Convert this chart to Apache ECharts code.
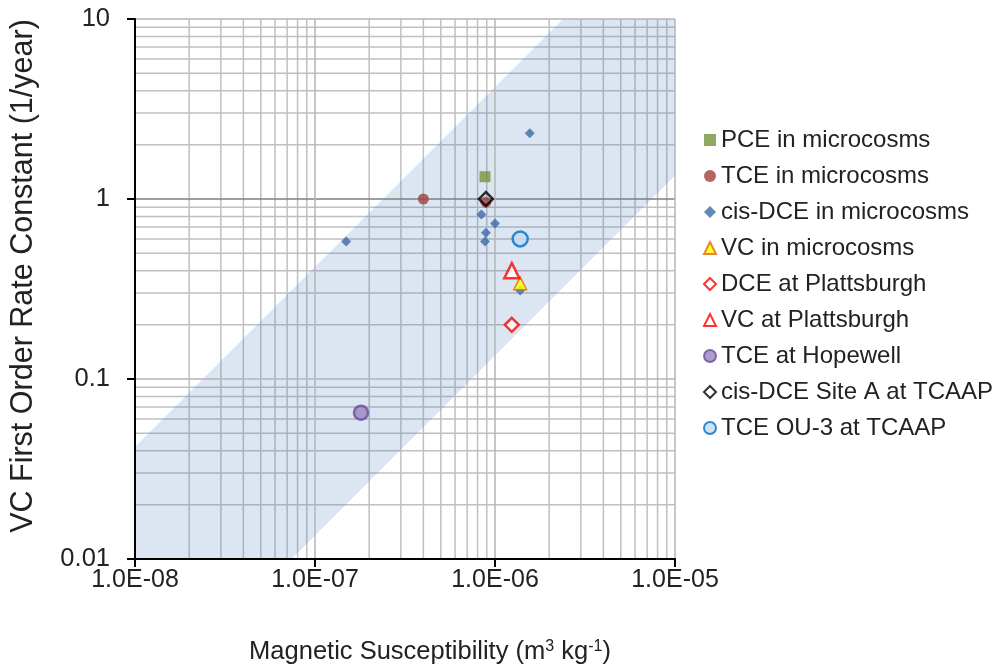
<!DOCTYPE html>
<html>
<head>
<meta charset="utf-8">
<title>VC rate constant vs magnetic susceptibility</title>
<script src="https://cdn.jsdelivr.net/npm/echarts@6.0.0/dist/echarts.min.js"></script>
<style>
  html, body { margin: 0; padding: 0; background: #fff; }
  #chart { width: 1000px; height: 670px; }
</style>
</head>
<body>
<div id="chart"></div>
<script>
// axis ranges and tick labels
const xMin = 1e-8, xMax = 1e-5;
const yMin = 0.01, yMax = 10;
const xTickLabels = ['1.0E-08', '1.0E-07', '1.0E-06', '1.0E-05'];
const yTickLabels = ['0.01', '0.1', '1', '10'];

// [magnetic susceptibility, rate constant] per data set
const pceMicro = [[8.8e-7, 1.33]];
const tceMicro = [[4.0e-7, 1.0], [8.9e-7, 0.96]];
const cisDceMicro = [
  [1.56e-6, 2.32], [8.4e-7, 0.82], [1.0e-6, 0.73], [8.9e-7, 0.65],
  [8.8e-7, 0.58], [1.49e-7, 0.58], [1.38e-6, 0.31]
];
const vcMicro = [[1.38e-6, 0.34]];
const dcePlattsburgh = [[1.24e-6, 0.20]];
const vcPlattsburgh = [[1.24e-6, 0.40]];
const tceHopewell = [[1.8e-7, 0.065]];
const cisDceSiteA = [[8.9e-7, 1.0]];
const tceOu3 = [[1.38e-6, 0.60]];

// shaded band (corners)
const bandX = [1e-8, 2.39e-6, 1e-5, 1e-5, 7.4e-8, 1e-8];
const bandY = [0.042, 10, 10, 1.35, 0.01, 0.01];

// minor gridlines at 2..9 x 10^n
const minorSteps = [2, 3, 4, 5, 6, 7, 8, 9];
const xDecades = [1e-8, 1e-7, 1e-6];
const yDecades = [0.01, 0.1, 1];

const FONT = '"Liberation Sans", Arial, sans-serif';

const chart = echarts.init(document.getElementById('chart'));

function decadeIndex(v, base) {
  return Math.round(Math.log10(v) - Math.log10(base));
}

function minorGrid(params, api) {
  const cs = params.coordSys;
  const lines = [];
  xDecades.forEach(d => {
    minorSteps.forEach(s => {
      const p = api.coord([d * s, yMin]);
      lines.push({
        type: 'line',
        shape: { x1: p[0], y1: cs.y, x2: p[0], y2: cs.y + cs.height },
        style: { stroke: '#c0c0c0', lineWidth: 1.5 }
      });
    });
  });
  yDecades.forEach(d => {
    minorSteps.forEach(s => {
      const p = api.coord([xMin, d * s]);
      lines.push({
        type: 'line',
        shape: { x1: cs.x, y1: p[1], x2: cs.x + cs.width, y2: p[1] },
        style: { stroke: '#c0c0c0', lineWidth: 1.5 }
      });
    });
  });
  return { type: 'group', children: lines };
}

function band(params, api) {
  const pts = bandX.map((x, i) => api.coord([x, bandY[i]]));
  return {
    type: 'polygon',
    shape: { points: pts },
    style: { fill: 'rgba(79,129,189,0.2)' }
  };
}

function scatter(name, data, symbol, size, itemStyle) {
  return {
    name: name,
    type: 'scatter',
    data: data,
    symbol: symbol,
    symbolSize: size,
    itemStyle: itemStyle,
    z: 3
  };
}

const option = {
  backgroundColor: '#fff',
  animation: false,
  textStyle: { fontFamily: FONT },
  grid: { left: 132, top: 19, width: 543, height: 540 },
  legend: {
    orient: 'vertical',
    left: 698,
    top: 123,
    itemWidth: 12,
    itemHeight: 12,
    itemGap: 12,
    textStyle: { fontFamily: FONT, fontSize: 24, color: '#222' },
    data: [
      'PCE in microcosms', 'TCE in microcosms', 'cis-DCE in microcosms',
      'VC in microcosms', 'DCE at Plattsburgh', 'VC at Plattsburgh',
      'TCE at Hopewell', 'cis-DCE Site A at TCAAP', 'TCE OU-3 at TCAAP'
    ]
  },
  xAxis: {
    type: 'log',
    logBase: 10,
    min: xMin,
    max: xMax,
    z: 2,
    name: 'Magnetic Susceptibility (m{sup|3} kg{sup|-1})',
    nameLocation: 'middle',
    nameGap: 80,
    nameTextStyle: {
      fontFamily: FONT, fontSize: 25.5, color: '#222',
      padding: [0, 0, 0, 50],
      rich: {
        sup: { fontFamily: FONT, fontSize: 16, color: '#222', verticalAlign: 'top', padding: [0, 0, 8, 0] }
      }
    },
    axisLine: { show: true, lineStyle: { color: '#000', width: 2 } },
    axisTick: { show: true, inside: false, length: 8, lineStyle: { color: '#000', width: 2 } },
    axisLabel: {
      margin: 9,
      fontFamily: FONT, fontSize: 25, color: '#222',
      formatter: v => xTickLabels[decadeIndex(v, xMin)]
    },
    splitLine: { show: true, lineStyle: { color: '#b4b4b4', width: 1.5 } },
    minorTick: { show: false },
    minorSplitLine: { show: false }
  },
  yAxis: {
    type: 'log',
    logBase: 10,
    min: yMin,
    max: yMax,
    z: 2,
    name: 'VC First Order Rate Constant (1/year)',
    nameLocation: 'middle',
    nameGap: 96,
    nameTextStyle: { fontFamily: FONT, fontSize: 30.5, color: '#222', padding: [0, 0, 0, 26] },
    axisLine: { show: true, lineStyle: { color: '#000', width: 2 } },
    axisTick: { show: true, inside: false, length: 8, lineStyle: { color: '#000', width: 2 } },
    axisLabel: {
      margin: 25,
      fontFamily: FONT, fontSize: 25.5, color: '#222',
      formatter: v => yTickLabels[decadeIndex(v, yMin)]
    },
    splitLine: { show: true, lineStyle: { color: ['#b4b4b4', '#b4b4b4', '#7f7f7f', '#b4b4b4'], width: 1.5 } },
    minorTick: { show: false },
    minorSplitLine: { show: false }
  },
  series: [
    { type: 'custom', name: 'minorGrid', silent: true, z: 0, data: [0], renderItem: minorGrid },
    { type: 'custom', name: 'band', silent: true, z: 1, data: [0], renderItem: band },
    scatter('PCE in microcosms', pceMicro, 'rect', 11, { color: '#77933c' }),
    scatter('TCE in microcosms', tceMicro, 'circle', 11, { color: '#a0413f' }),
    scatter('cis-DCE in microcosms', cisDceMicro, 'diamond', 10, { color: '#3d6aa6' }),
    scatter('VC in microcosms', vcMicro, 'triangle', 13,
      { color: '#ffff00', borderColor: '#e46c0a', borderWidth: 1.5 }),
    scatter('DCE at Plattsburgh', dcePlattsburgh, 'diamond', 14,
      { color: '#ffffff', borderColor: '#ff0000', borderWidth: 2.5 }),
    scatter('VC at Plattsburgh', vcPlattsburgh, 'triangle', 15,
      { color: '#ffffff', borderColor: '#ff0000', borderWidth: 2.5 }),
    scatter('TCE at Hopewell', tceHopewell, 'circle', 14,
      { color: '#9a85bd', borderColor: '#6a4c9c', borderWidth: 2.5 }),
    scatter('cis-DCE Site A at TCAAP', cisDceSiteA, 'diamond', 14,
      { color: 'rgba(0,0,0,0)', borderColor: '#000000', borderWidth: 2.5 }),
    scatter('TCE OU-3 at TCAAP', tceOu3, 'circle', 15,
      { color: '#c6d9f1', borderColor: '#0070c0', borderWidth: 2.5 })
  ]
};

chart.setOption(option);
</script>
</body>
</html>
